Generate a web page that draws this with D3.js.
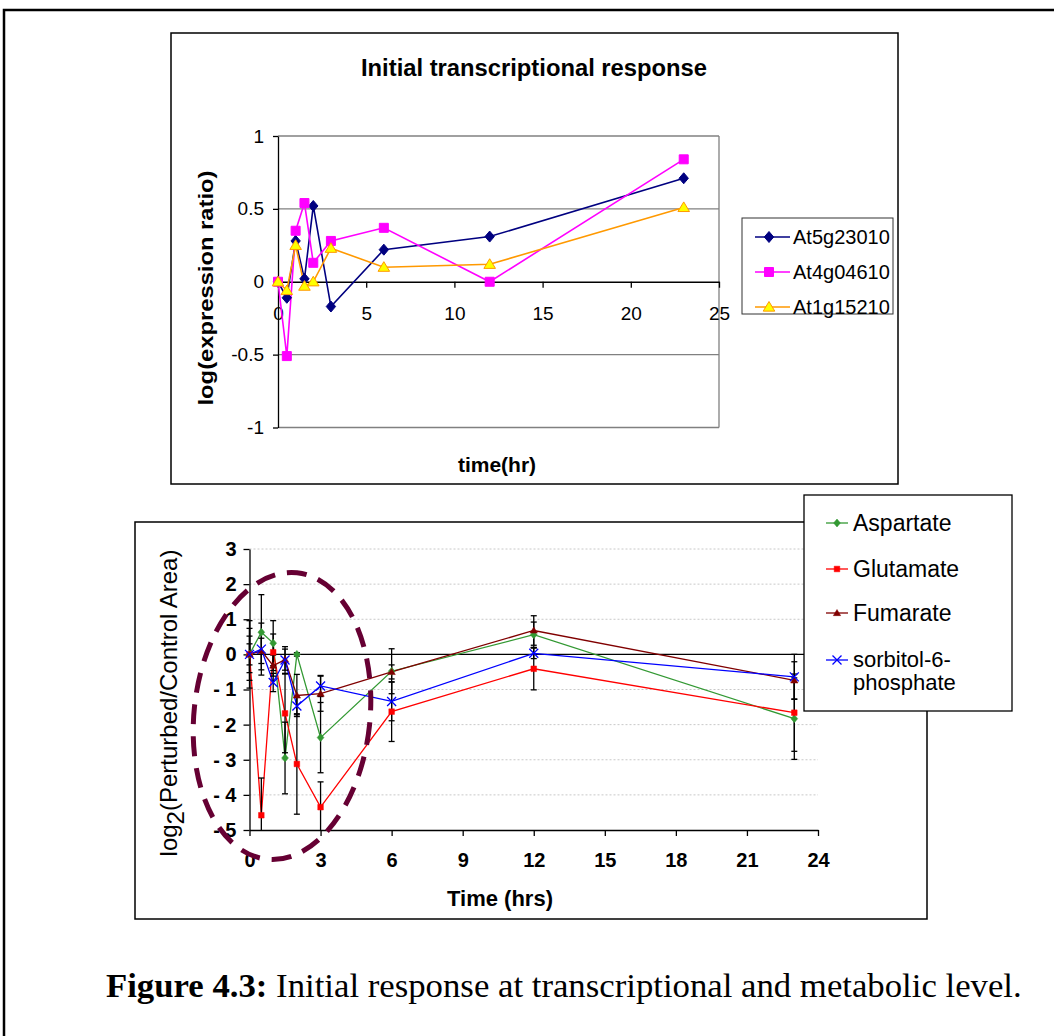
<!DOCTYPE html>
<html>
<head>
<meta charset="utf-8">
<title>Figure 4.3</title>
<script src="https://d3js.org/d3.v7.min.js"></script>
<style>
  body { margin: 0; background: #fff; }
  svg text { font-family: "Liberation Sans", Arial, sans-serif; fill: #000; }
</style>
</head>
<body>
<svg id="fig" width="1054" height="1036"></svg>
<script>
// sampling times (hr), shared by both panels
const times = [0, 0.5, 1, 1.5, 2, 3, 6, 12, 23];

// top panel: log(expression ratio)
const geneNames = ["At5g23010", "At4g04610", "At1g15210"];
const at5g23010 = [0, -0.11, 0.28, 0.02, 0.52, -0.17, 0.22, 0.31, 0.71];
const at4g04610 = [0, -0.51, 0.35, 0.54, 0.13, 0.28, 0.37, 0, 0.84];
const at1g15210 = [0, -0.06, 0.25, -0.03, 0, 0.23, 0.10, 0.12, 0.51];
const topXTicks = [0, 5, 10, 15, 20, 25];
const topYTicks = [-1, -0.5, 0, 0.5, 1];

// bottom panel: log2(perturbed/control area) with error bars
const metNames = ["Aspartate", "Glutamate", "Fumarate", "sorbitol-6-phosphate"];
const aspartate    = [0, 0.63, 0.32, -2.95, 0, -2.37, -0.48, 0.56, -1.83];
const aspartateErr = [0.96, 1.07, 0.64, 1.02, 0.05, 1.0, 0.64, 0.36, 1.16];
const glutamate    = [0, -4.58, 0.06, -1.68, -3.12, -4.35, -1.63, -0.41, -1.66];
const glutamateErr = [0.52, 1.06, 0.52, 1.12, 1.43, 0.72, 0.85, 0.6, 1.1];
const fumarate     = [0, 0.1, -0.32, -0.15, -1.17, -1.12, -0.5, 0.68, -0.74];
const fumarateErr  = [0.74, 0.36, 0.3, 0.3, 0.6, 0.5, 0.2, 0.42, 0.53];
const sorbitol     = [0, 0.15, -0.8, -0.16, -1.47, -0.9, -1.34, 0.03, -0.64];
const sorbitolErr  = [0.3, 0.74, 0.26, 0.38, 0.25, 0.3, 0.55, 0.15, 0.64];
const botXTicks = [0, 3, 6, 9, 12, 15, 18, 21, 24];
const botYTicks = [3, 2, 1, 0, -1, -2, -3, -4, -5];

const svg = d3.select("#fig");

// marker shapes
function diamond(r) { return `M0,${-r}L${r*0.85},0L0,${r}L${-r*0.85},0Z`; }
function square(r) { return `M${-r},${-r}H${r}V${r}H${-r}Z`; }
function triangle(r) { return `M0,${-r}L${r*1.05},${r*0.75}L${-r*1.05},${r*0.75}Z`; }
function cross(r) { return `M${-r},${-r}L${r},${r}M${-r},${r}L${r},${-r}`; }

// outer page frame
svg.append("rect")
    .attr("x", 4).attr("y", 10).attr("width", 1100).attr("height", 1100)
    .attr("fill", "none").attr("stroke", "#000").attr("stroke-width", 2.5);

drawTop();
drawBottom();
drawCaption();

function drawTop() {
    let xTop = d3.scaleLinear([0, 25], [278, 719]),
        yTop = d3.scaleLinear([-1, 1], [427.5, 136]),
        g = svg.append("g");

    g.append("rect")
        .attr("x", 171).attr("y", 33).attr("width", 727).attr("height", 451)
        .attr("fill", "#fff").attr("stroke", "#000").attr("stroke-width", 1.5);

    // grid + plot frame
    g.selectAll(".grid")
        .data(topYTicks.filter(d => d !== 0))
        .join("line")
        .attr("x1", xTop(0)).attr("x2", xTop(25))
        .attr("y1", d => yTop(d)).attr("y2", d => yTop(d))
        .attr("stroke", "#808080").attr("stroke-width", 1.3);
    g.append("line")
        .attr("x1", xTop(25)).attr("x2", xTop(25))
        .attr("y1", yTop(1)).attr("y2", yTop(-1))
        .attr("stroke", "#808080").attr("stroke-width", 1.3);

    let yAxis = g.append("g")
        .attr("transform", `translate(${xTop(0)},0)`)
        .call(d3.axisLeft(yTop).tickValues(topYTicks).tickSize(5).tickSizeOuter(0)
            .tickPadding(9).tickFormat(d => String(d)));
    let xAxis = g.append("g")
        .attr("transform", `translate(0,${yTop(0)})`)
        .call(d3.axisBottom(xTop).tickValues(topXTicks).tickSize(6).tickSizeOuter(0)
            .tickPadding(19).tickFormat(d => String(d)));
    [yAxis, xAxis].forEach(a => {
        a.selectAll("path, line").attr("stroke", "#000").attr("stroke-width", 1.3);
        a.selectAll("text").style("font-size", "19px").attr("fill", "#000");
    });

    let series = [
        { name: geneNames[0], values: at5g23010, color: "#000080", fill: "#000080", shape: diamond(5.5) },
        { name: geneNames[1], values: at4g04610, color: "#FF00FF", fill: "#FF00FF", shape: square(4.5) },
        { name: geneNames[2], values: at1g15210, color: "#FF9900", fill: "#FFFF00", shape: triangle(5.5) }
    ];

    let line = d3.line()
        .x((d, i) => xTop(times[i]))
        .y(d => yTop(d));

    series.forEach(s => {
        g.append("path")
            .datum(s.values)
            .attr("d", line)
            .attr("fill", "none").attr("stroke", s.color).attr("stroke-width", 1.6);
    });
    series.forEach(s => {
        g.selectAll(null)
            .data(s.values)
            .join("path")
            .attr("transform", (d, i) => `translate(${xTop(times[i])},${yTop(d)})`)
            .attr("d", s.shape)
            .attr("fill", s.fill).attr("stroke", s.color).attr("stroke-width", 1);
    });

    // legend
    let leg = g.append("g");
    leg.append("rect")
        .attr("x", 742).attr("y", 218).attr("width", 151).attr("height", 96)
        .attr("fill", "#fff").attr("stroke", "#333").attr("stroke-width", 1);
    series.forEach((s, i) => {
        let y = 237 + i * 35;
        leg.append("line").attr("x1", 755).attr("x2", 790).attr("y1", y).attr("y2", y)
            .attr("stroke", s.color).attr("stroke-width", 1.6);
        leg.append("path").attr("transform", `translate(769,${y})`).attr("d", s.shape)
            .attr("fill", s.fill).attr("stroke", s.color);
        leg.append("text").attr("x", 793).attr("y", y + 7)
            .style("font-size", "20px").text(s.name);
    });

    g.append("text")
        .attr("x", 534).attr("y", 76).attr("text-anchor", "middle")
        .attr("textLength", 346).attr("lengthAdjust", "spacingAndGlyphs")
        .style("font-size", "23px").style("font-weight", "bold")
        .text("Initial transcriptional response");
    g.append("text")
        .attr("transform", "translate(213,288) rotate(-90)")
        .attr("text-anchor", "middle")
        .attr("textLength", 235).attr("lengthAdjust", "spacingAndGlyphs")
        .style("font-size", "20px").style("font-weight", "bold")
        .text("log(expression ratio)");
    g.append("text")
        .attr("x", 497).attr("y", 472).attr("text-anchor", "middle")
        .style("font-size", "21px").style("font-weight", "bold")
        .text("time(hr)");
}

function drawBottom() {
    let xBot = d3.scaleLinear([0, 24], [249.5, 818]),
        yBot = d3.scaleLinear([-5, 3], [830, 549]),
        g = svg.append("g");

    g.append("rect")
        .attr("x", 135).attr("y", 522).attr("width", 792).attr("height", 397)
        .attr("fill", "#fff").attr("stroke", "#000").attr("stroke-width", 1.5);

    // dotted grid
    g.selectAll(".grid")
        .data(botYTicks.filter(d => d !== 0 && d !== -5))
        .join("line")
        .attr("x1", xBot(0)).attr("x2", xBot(24))
        .attr("y1", d => yBot(d)).attr("y2", d => yBot(d))
        .attr("stroke", "#c8c8c8").attr("stroke-width", 1).attr("stroke-dasharray", "2 2");
    // zero line runs out to the frame
    g.append("line")
        .attr("x1", xBot(0)).attr("x2", 927)
        .attr("y1", yBot(0)).attr("y2", yBot(0))
        .attr("stroke", "#000").attr("stroke-width", 1.3);

    let yAxis = g.append("g")
        .attr("transform", `translate(${xBot(0)},0)`)
        .call(d3.axisLeft(yBot).tickValues(botYTicks).tickSize(6).tickSizeOuter(0)
            .tickPadding(7).tickFormat(d => d < 0 ? "- " + (-d) : String(d)));
    let xAxis = g.append("g")
        .attr("transform", `translate(0,${yBot(-5)})`)
        .call(d3.axisBottom(xBot).tickValues(botXTicks).tickSize(6).tickSizeOuter(0)
            .tickPadding(17).tickFormat(d => String(d)));
    [yAxis, xAxis].forEach(a => {
        a.selectAll("path, line").attr("stroke", "#000").attr("stroke-width", 1.3);
        a.selectAll("text").style("font-size", "20px").style("font-weight", "bold").attr("fill", "#000");
    });

    let series = [
        { name: metNames[0], values: aspartate, err: aspartateErr, color: "#339933", shape: diamond(4), fill: true },
        { name: metNames[1], values: glutamate, err: glutamateErr, color: "#FF0000", shape: square(2.8), fill: true },
        { name: metNames[2], values: fumarate, err: fumarateErr, color: "#800000", shape: triangle(3.5), fill: true },
        { name: metNames[3], values: sorbitol, err: sorbitolErr, color: "#0000FF", shape: cross(4.5), fill: false }
    ];

    let line = d3.line()
        .x((d, i) => xBot(times[i]))
        .y(d => yBot(d));

    series.forEach(s => {
        g.append("path")
            .datum(s.values)
            .attr("d", line)
            .attr("fill", "none").attr("stroke", s.color).attr("stroke-width", 1.3);
    });

    // error bars, clipped to the axis range
    series.forEach(s => {
        let bars = g.selectAll(null)
            .data(s.values.map((v, i) => ({ t: times[i], lo: Math.max(v - s.err[i], -5), hi: Math.min(v + s.err[i], 3) })))
            .join("g")
            .attr("stroke", "#000").attr("stroke-width", 1.3);
        bars.append("line")
            .attr("x1", d => xBot(d.t)).attr("x2", d => xBot(d.t))
            .attr("y1", d => yBot(d.lo)).attr("y2", d => yBot(d.hi));
        bars.append("line")
            .attr("x1", d => xBot(d.t) - 3).attr("x2", d => xBot(d.t) + 3)
            .attr("y1", d => yBot(d.hi)).attr("y2", d => yBot(d.hi));
        bars.filter(d => d.lo > -5).append("line")
            .attr("x1", d => xBot(d.t) - 3).attr("x2", d => xBot(d.t) + 3)
            .attr("y1", d => yBot(d.lo)).attr("y2", d => yBot(d.lo));
    });

    series.forEach(s => {
        g.selectAll(null)
            .data(s.values)
            .join("path")
            .attr("transform", (d, i) => `translate(${xBot(times[i])},${yBot(d)})`)
            .attr("d", s.shape)
            .attr("fill", s.fill ? s.color : "none")
            .attr("stroke", s.color).attr("stroke-width", s.fill ? 0.5 : 1.3);
    });

    // dashed ellipse around the early response
    g.append("ellipse")
        .attr("cx", 282).attr("cy", 716).attr("rx", 88).attr("ry", 144)
        .attr("transform", "rotate(6,282,716)")
        .attr("fill", "none").attr("stroke", "#660033").attr("stroke-width", 5)
        .attr("stroke-dasharray", "20 12");

    // legend
    let leg = g.append("g");
    leg.append("rect")
        .attr("x", 804).attr("y", 495).attr("width", 208).attr("height", 216)
        .attr("fill", "#fff").attr("stroke", "#000").attr("stroke-width", 1.3);
    let legY = [523, 569, 613, 660];
    series.forEach((s, i) => {
        let y = legY[i];
        leg.append("line").attr("x1", 826).attr("x2", 848).attr("y1", y).attr("y2", y)
            .attr("stroke", s.color).attr("stroke-width", 1.3);
        leg.append("path").attr("transform", `translate(837,${y})`).attr("d", s.shape)
            .attr("fill", s.fill ? s.color : "none").attr("stroke", s.color)
            .attr("stroke-width", s.fill ? 0.5 : 1.3);
        if (i === 3) {
            leg.append("text").attr("x", 853).attr("y", y + 7).style("font-size", "22px").text("sorbitol-6-");
            leg.append("text").attr("x", 853).attr("y", y + 30).style("font-size", "22px").text("phosphate");
        } else {
            leg.append("text").attr("x", 853).attr("y", y + 8).style("font-size", "23px").text(s.name);
        }
    });

    let yl = g.append("text")
        .attr("transform", "translate(177,703) rotate(-90)")
        .attr("text-anchor", "middle")
        .style("font-size", "24px");
    yl.append("tspan").text("log");
    yl.append("tspan").attr("dy", 7).text("2");
    yl.append("tspan").attr("dy", -7).text("(Perturbed/Control Area)");

    g.append("text")
        .attr("x", 500).attr("y", 906).attr("text-anchor", "middle")
        .style("font-size", "22px").style("font-weight", "bold")
        .text("Time (hrs)");
}

function drawCaption() {
    let cap = svg.append("text")
        .attr("x", 106).attr("y", 997)
        .style("font-family", "'Liberation Serif', serif")
        .style("font-size", "30px");
    cap.append("tspan").style("font-weight", "bold").text("Figure 4.3:");
    cap.append("tspan").text(" Initial response at transcriptional and metabolic level.");
    // fit the caption to the width it spans in the figure
    let len = cap.node().getComputedTextLength();
    cap.style("font-size", (30 * 916 / len) + "px");
}
</script>
</body>
</html>
